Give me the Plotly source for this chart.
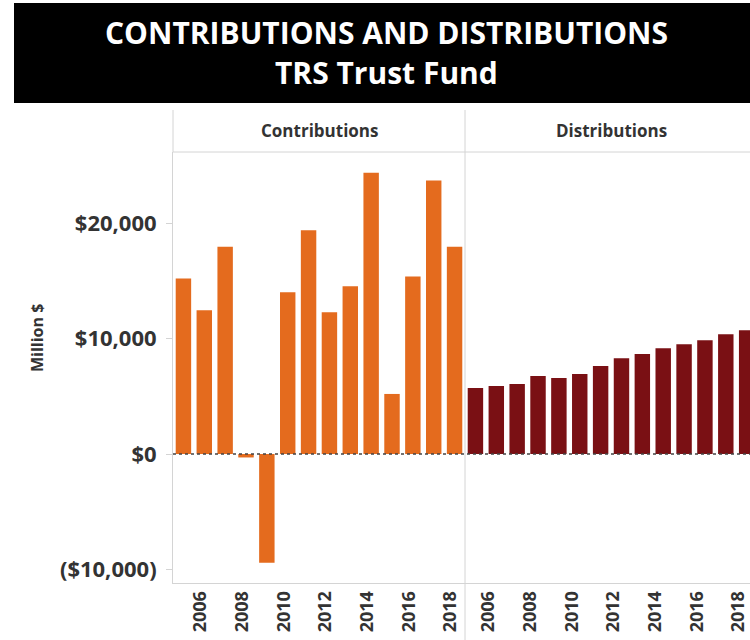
import plotly.graph_objects as go
import plotly.subplots as ps

anni = list(range(2005, 2019))
contributi = [15200, 12450, 17950, -300, -9420, 14000, 19380, 12270, 14520,
              24350, 5200, 15380, 23680, 17950]
distribuzioni = [5720, 5890, 6060, 6750, 6580, 6920, 7610, 8300, 8650,
                 9160, 9510, 9850, 10370, 10720]
pannelli = ["Contributions", "Distributions"]
tick_anni = [2006, 2008, 2010, 2012, 2014, 2016, 2018]
tick_y = [-10000, 0, 10000, 20000]
etichette_y = ["($10,000)", "$0", "$10,000", "$20,000"]

W, H = 750, 640
ARANCIO = "#E46B1E"
BORDEAUX = "#7A1014"
GRIGIO = "#d4d4d4"
TESTO = "#333333"


def px(x):
    return x / W


def py(y):
    return 1 - y / H


fig = ps.make_subplots(rows=1, cols=2, shared_yaxes=True, horizontal_spacing=0)

fig.add_trace(go.Bar(x=anni, y=contributi, marker_color=ARANCIO,
                     marker_line_width=0, showlegend=False), row=1, col=1)
fig.add_trace(go.Bar(x=anni, y=distribuzioni, marker_color=BORDEAUX,
                     marker_line_width=0, showlegend=False), row=1, col=2)

# assi x: il secondo pannello è tagliato a destra come nell'originale
font_tick = dict(family="Open Sans", size=18, color=TESTO, weight="bold")
fig.update_xaxes(tickvals=tick_anni, tickangle=-90, tickfont=font_tick,
                 ticklabeloverflow="allow", automargin=False,
                 showgrid=False, zeroline=False, showline=True,
                 linecolor=GRIGIO, linewidth=1, ticks="")
fig.update_xaxes(domain=[px(173), px(465)], range=[2004.5, 2018.5],
                 ticklabelshift=-4, row=1, col=1)
fig.update_xaxes(domain=[px(465), 1], range=[2004.5, 2018.16],
                 ticklabelshift=-8, row=1, col=2)

fig.update_yaxes(domain=[py(583), py(152)], range=[-11170, 26150],
                 showgrid=False, zeroline=False, automargin=False)
fig.update_yaxes(tickvals=tick_y, ticktext=etichette_y,
                 tickfont=dict(family="Open Sans", size=22, color=TESTO, weight="bold"),
                 ticks="outside", ticklen=6, tickcolor=GRIGIO,
                 ticklabelstandoff=5,
                 showline=True, linecolor=GRIGIO, linewidth=1, row=1, col=1)

shapes = [
    # banda nera del titolo
    dict(type="rect", xref="paper", yref="paper", x0=px(14), x1=1,
         y0=py(103), y1=py(3), fillcolor="black", line_width=0, layer="below"),
    # intestazioni dei pannelli
    dict(type="line", xref="paper", yref="paper", x0=px(173), x1=1,
         y0=py(152), y1=py(152), line=dict(color=GRIGIO, width=1)),
    dict(type="line", xref="paper", yref="paper", x0=px(173), x1=px(173),
         y0=py(152), y1=py(110), line=dict(color=GRIGIO, width=1)),
    dict(type="line", xref="paper", yref="paper", x0=px(465), x1=px(465),
         y0=0, y1=py(110), line=dict(color=GRIGIO, width=1)),
    # linea dello zero tratteggiata
    dict(type="line", xref="paper", yref="y", x0=px(173), x1=1,
         y0=0, y1=0, line=dict(color="#444444", width=1.5, dash="dot")),
]

annotations = [
    dict(text="CONTRIBUTIONS AND DISTRIBUTIONS", x=px(386), y=py(32),
         font=dict(family="Open Sans", size=30, color="white", weight="bold")),
    dict(text="TRS Trust Fund", x=px(386), y=py(72),
         font=dict(family="Open Sans", size=30, color="white", weight="bold")),
    dict(text=pannelli[0], x=px(319), y=py(130),
         font=dict(family="Open Sans", size=17, color=TESTO, weight="bold")),
    dict(text=pannelli[1], x=px(611), y=py(130),
         font=dict(family="Open Sans", size=17, color=TESTO, weight="bold")),
    dict(text="Million $", x=px(37), y=py(338), textangle=-90,
         font=dict(family="Open Sans", size=16, color=TESTO, weight="bold")),
]
for a in annotations:
    a.update(xref="paper", yref="paper", showarrow=False,
             xanchor="center", yanchor="middle")

fig.update_layout(width=W, height=H, autosize=False,
                  margin=dict(l=0, r=0, t=0, b=0),
                  paper_bgcolor="white", plot_bgcolor="white",
                  bargap=0.26, shapes=shapes, annotations=annotations)

# niente margine e niente scroll: la figura riempie esattamente la pagina
fig.write_html("out.html", config={"displayModeBar": False},
               post_script="document.body.style.margin='0';"
                           "document.body.style.overflow='hidden';"
                           "document.documentElement.style.overflow='hidden';")
